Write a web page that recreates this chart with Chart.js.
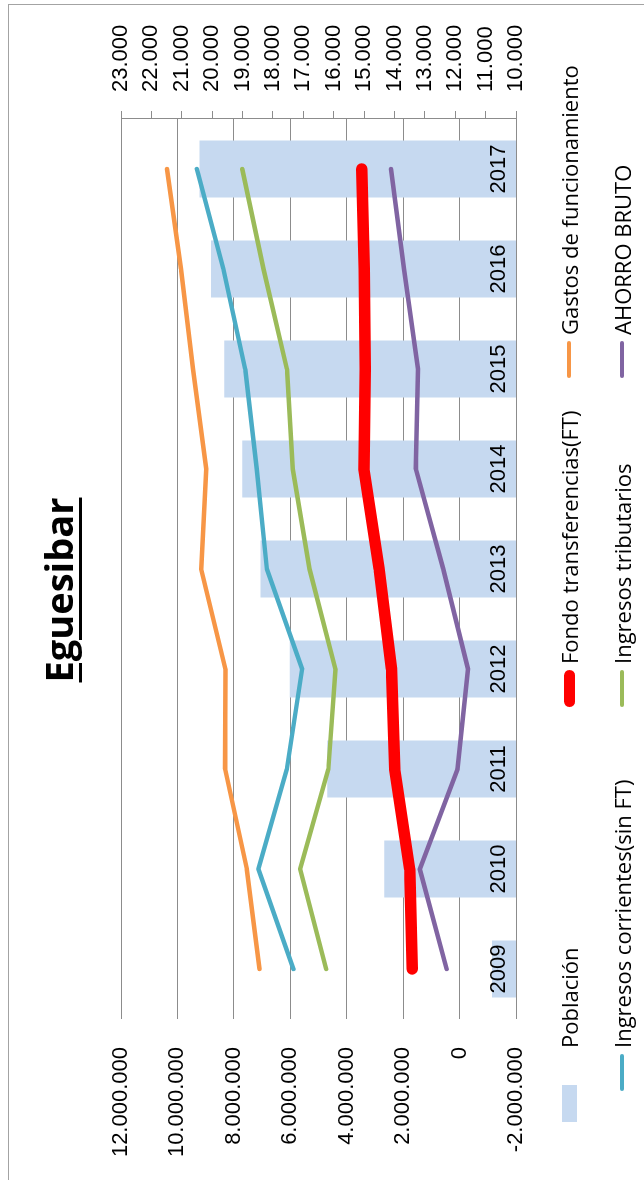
<!DOCTYPE html>
<html><head><meta charset="utf-8">
<script src="https://cdn.jsdelivr.net/npm/chart.js@4.4.0/dist/chart.umd.min.js"></script>
<style>
html,body{margin:0;padding:0;background:#fff;overflow:hidden;width:644px;height:1180px;}
#wrap{position:absolute;left:0;top:0;width:1180px;height:644px;transform-origin:0 0;transform:translate(0px,1180px) rotate(-90deg);background:#fff;}
#frame{position:absolute;left:-4px;top:8px;width:1180px;height:660px;border-top:1.5px solid #a3a3a3;border-right:1.5px solid #a3a3a3;box-sizing:border-box;}
#chart{position:absolute;left:0;top:0;}
#title{position:absolute;left:0;width:1180px;top:39px;text-align:center;font-family:'Open Sans',sans-serif;font-weight:bold;font-size:38px;line-height:38px;text-decoration:underline;text-decoration-thickness:3px;text-underline-offset:6px;color:#000;}
#legend{position:absolute;left:0;top:0;width:1180px;height:644px;font-family:'Open Sans',sans-serif;font-size:22px;color:#000;}
.li{position:absolute;display:flex;align-items:center;white-space:nowrap;height:30px;line-height:30px;}
.mk{display:inline-block;width:37px;margin-right:6px;flex:none;}
.mk.bar{margin-right:37px;}
.r0{top:554px;} .r1{top:607px;}
.c0{left:89px;} .c0.bi{left:58px;} .c1{left:473px;} .c2{left:802px;}
</style></head>
<body><div id="wrap"><div id="frame"></div><canvas id="chart" width="1180" height="644"></canvas><div id="title">Eguesibar</div><div id="legend"></div></div>
<script>
const categories = ['2009','2010','2011','2012','2013','2014','2015','2016','2017'];
const poblacion = [10790, 14340, 16210, 17450, 18410, 19010, 19600, 20040, 20420];
const ingresosCorrientes = [5890000, 7130000, 6120000, 5580000, 6830000, 7190000, 7600000, 8370000, 9310000];
const fondoTransferencias = [1680000, 1770000, 2300000, 2410000, 2850000, 3390000, 3340000, 3380000, 3470000];
const ingresosTributarios = [4730000, 5650000, 4650000, 4400000, 5320000, 5910000, 6120000, 6950000, 7700000];
const gastosFuncionamiento = [7090000, 7540000, 8310000, 8300000, 9160000, 8980000, 9450000, 9870000, 10370000];
const ahorroBruto = [460000, 1410000, 70000, -300000, 580000, 1550000, 1470000, 1970000, 2430000];
const leftTicks = [-2000000, 0, 2000000, 4000000, 6000000, 8000000, 10000000, 12000000];
const rightTicks = [10000, 11000, 12000, 13000, 14000, 15000, 16000, 17000, 18000, 19000, 20000, 21000, 22000, 23000];
const legendRows = [
  ['Población', 'Fondo transferencias(FT)', 'Gastos de funcionamiento'],
  ['Ingresos corrientes(sin FT)', 'Ingresos tributarios', 'AHORRO BRUTO']
];

function fmt(v) {
  const neg = v < 0;
  let s = String(Math.abs(Math.round(v)));
  s = s.replace(/\B(?=(\d{3})+(?!\d))/g, '.');
  return (neg ? '-' : '') + s;
}
const tickFont = {family: "'Liberation Sans', Arial, sans-serif", size: 22};
const gridColor = '#8c8c8c';

const chart = new Chart(document.getElementById('chart'), {
  data: {
    labels: categories,
    datasets: [
      {type: 'line', label: 'Ingresos corrientes(sin FT)', data: ingresosCorrientes, borderColor: '#4bacc6', backgroundColor: '#4bacc6', borderWidth: 4.5, yAxisID: 'y', order: 3},
      {type: 'line', label: 'Fondo transferencias(FT)', data: fondoTransferencias, borderColor: '#ff0000', backgroundColor: '#ff0000', borderWidth: 11.5, yAxisID: 'y', order: 1},
      {type: 'line', label: 'Ingresos tributarios', data: ingresosTributarios, borderColor: '#9bbb59', backgroundColor: '#9bbb59', borderWidth: 4.5, yAxisID: 'y', order: 4},
      {type: 'line', label: 'Gastos de funcionamiento', data: gastosFuncionamiento, borderColor: '#f79646', backgroundColor: '#f79646', borderWidth: 4.5, yAxisID: 'y', order: 5},
      {type: 'line', label: 'AHORRO BRUTO', data: ahorroBruto, borderColor: '#8064a2', backgroundColor: '#8064a2', borderWidth: 4.5, yAxisID: 'y', order: 2},
      {type: 'bar', label: 'Población', data: poblacion, backgroundColor: '#c6d9f0', yAxisID: 'y2', order: 10, barPercentage: 0.57, categoryPercentage: 1}
    ]
  },
  options: {
    responsive: false, animation: false, devicePixelRatio: 1, events: [],
    layout: {padding: {left: 0, right: 0, top: 121, bottom: 0}},
    plugins: {legend: {display: false}, title: {display: false}, tooltip: {enabled: false}},
    elements: {line: {tension: 0, borderCapStyle: 'round', borderJoinStyle: 'round', fill: false}, point: {radius: 0, hoverRadius: 0}},
    scales: {
      x: {type: 'category', offset: true, grid: {display: false}, border: {display: false},
          ticks: {font: tickFont, color: '#000', mirror: true, padding: 4, maxRotation: 0, autoSkip: false, z: 1},
          afterFit(s) { s.height = 128; }},
      y: {type: 'linear', position: 'left', min: leftTicks[0], max: leftTicks[leftTicks.length - 1],
          grid: {color: gridColor, lineWidth: 1, drawTicks: false}, border: {display: false},
          ticks: {font: tickFont, color: '#000', padding: 28, callback: v => fmt(v)},
          afterBuildTicks(s) { s.ticks = leftTicks.map(v => ({value: v})); },
          afterFit(s) { s.width = 161; }},
      y2: {type: 'linear', position: 'right', min: rightTicks[0], max: rightTicks[rightTicks.length - 1],
          grid: {drawOnChartArea: false, drawTicks: true, tickLength: 8, color: gridColor, lineWidth: 1},
          border: {display: true, color: gridColor, width: 1},
          ticks: {font: tickFont, color: '#000', padding: 19, callback: v => fmt(v)},
          afterBuildTicks(s) { s.ticks = rightTicks.map(v => ({value: v})); },
          afterFit(s) { s.width = 119; }}
    }
  }
});

// HTML legend built from the chart's datasets
const legendEl = document.getElementById('legend');
chart.data.datasets.forEach(ds => {
  let r = -1, c = -1;
  legendRows.forEach((row, ri) => { const ci = row.indexOf(ds.label); if (ci >= 0) { r = ri; c = ci; } });
  if (r < 0) return;
  const item = document.createElement('div');
  item.className = 'li r' + r + ' c' + c + (ds.type === 'bar' ? ' bi' : '');
  const mk = document.createElement('span');
  mk.className = 'mk' + (ds.type === 'bar' ? ' bar' : '');
  if (ds.type === 'bar') {
    mk.style.height = '15px';
    mk.style.background = ds.backgroundColor;
  } else {
    const h = Math.min(ds.borderWidth, 11);
    mk.style.height = h + 'px';
    mk.style.borderRadius = (h / 2) + 'px';
    mk.style.background = ds.borderColor;
  }
  item.appendChild(mk);
  const t = document.createElement('span');
  t.textContent = ds.label;
  item.appendChild(t);
  legendEl.appendChild(item);
});
</script>
</body></html>
